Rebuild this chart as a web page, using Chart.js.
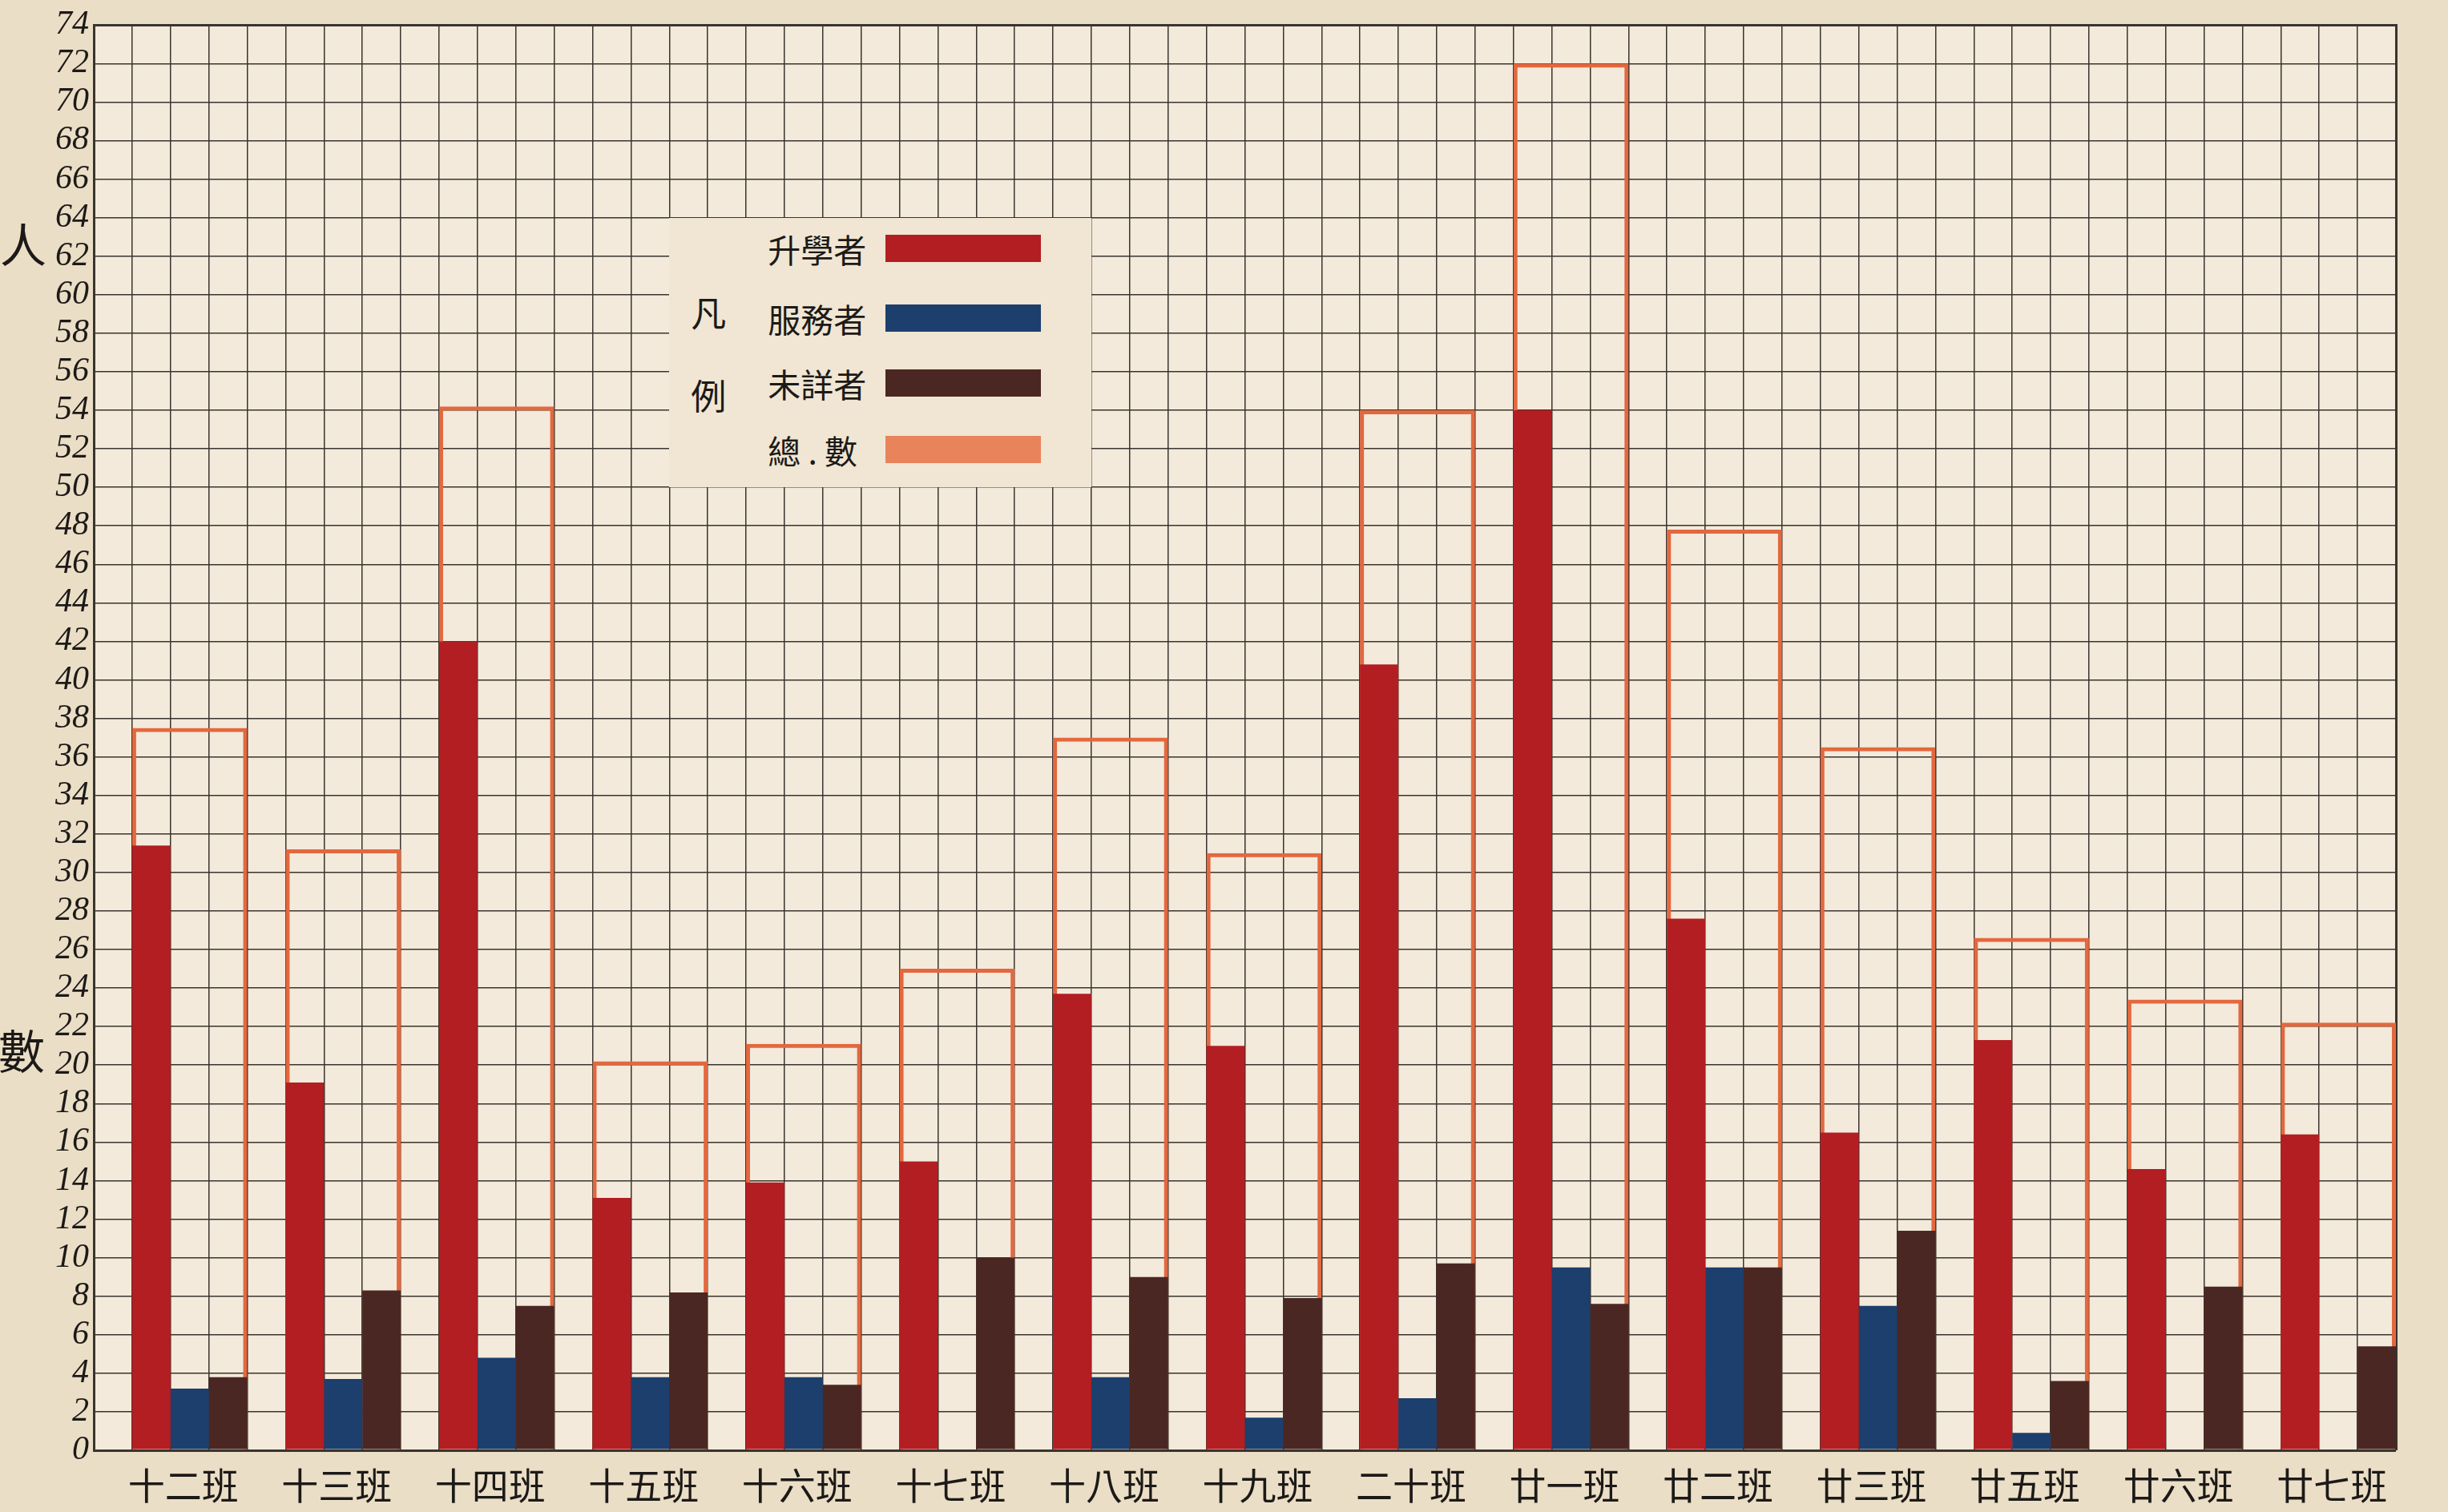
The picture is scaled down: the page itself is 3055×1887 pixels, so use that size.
<!DOCTYPE html>
<html>
<head>
<meta charset="utf-8">
<script src="https://cdn.jsdelivr.net/npm/chart.js@4/dist/chart.umd.min.js"></script>
<style>
  body { margin: 0; background: #ebdec6; }
  #wrap { position: relative; width: 3055px; height: 1887px; }
  .ytitle { position: absolute; font-family: "Noto Sans CJK TC", sans-serif; font-size: 58px; line-height: 1; color: #1c1a18; }
  #legend { position: absolute; background: #f0e6d3; font-family: "Noto Sans CJK TC", sans-serif; color: #1c1a18; }
</style>
</head>
<body>
<div id="wrap">
  <canvas id="chart" width="3055" height="1887"></canvas>
  <div class="ytitle" style="left:0px;top:274px;">人</div>
  <div class="ytitle" style="left:-2px;top:1280px;">數</div>
  <div id="legend"></div>
</div>
<script>
// classes along the bottom (廿四班 is not in the chart)
const classes = ['十二班', '十三班', '十四班', '十五班', '十六班', '十七班', '十八班', '十九班', '二十班', '廿一班', '廿二班', '廿三班', '廿五班', '廿六班', '廿七班'];

const further  = [31.4, 19.1, 42, 13.1, 13.9, 15, 23.7, 21, 40.8, 54, 27.6, 16.5, 21.3, 14.6, 16.4]; // 升學者
const employed = [3.2, 3.7, 4.8, 3.8, 3.8, 0, 3.8, 1.7, 2.7, 9.5, 9.5, 7.5, 0.9, 0, 0];             // 服務者
const unknown  = [3.8, 8.3, 7.5, 8.2, 3.4, 10, 9, 7.9, 9.7, 7.6, 9.5, 11.4, 3.6, 8.5, 5.4];         // 未詳者
const totals   = [37.5, 31.2, 54.2, 20.2, 21.1, 25, 37, 31, 54, 72, 47.8, 36.5, 26.6, 23.4, 22.2]; // 總數

const seriesNames  = ['升學者', '服務者', '未詳者', '總 . 數'];
const seriesColors = ['#b31e22', '#1c3f6d', '#4b2723', '#e8835c'];
const totalLine = '#e3683f';

const yMax = 74, yStep = 2;
const gridColumns = 60;

const gridColor = '#39342e';

const plotBg = {
  id: 'plotBg',
  beforeDraw(chart) {
    const { ctx, chartArea: a } = chart;
    ctx.save();
    ctx.fillStyle = '#f3eadb';
    ctx.fillRect(a.left, a.top, a.right - a.left, a.bottom - a.top);
    ctx.restore();
  }
};

const chart = new Chart(document.getElementById('chart'), {
  type: 'bar',
  data: {
    labels: classes.map((c, i) => i),
    datasets: [
      { label: seriesNames[0], data: further,  backgroundColor: seriesColors[0], order: 0 },
      { label: seriesNames[1], data: employed, backgroundColor: seriesColors[1], order: 0 },
      { label: seriesNames[2], data: unknown,  backgroundColor: seriesColors[2], order: 0 },
      { label: seriesNames[3], data: totals, grouped: false, order: 1,
        backgroundColor: 'rgba(0,0,0,0)', borderColor: totalLine, borderWidth: 5, borderSkipped: 'bottom' }
    ]
  },
  options: {
    responsive: false,
    animation: false,
    events: [],
    categoryPercentage: 0.75,
    barPercentage: 1,
    layout: { padding: { top: 26, right: 65, left: 0, bottom: 0 } },
    plugins: { legend: { display: false }, tooltip: { enabled: false } },
    scales: {
      x: {
        type: 'linear',
        position: 'bottom',
        offset: false,
        min: -0.625,
        max: classes.length - 0.625,
        afterBuildTicks: axis => { axis.ticks = classes.map((c, i) => ({ value: i })); },
        afterFit: axis => { axis.height = 77; },
        grid: { display: false, offset: false },
        border: { display: false },
        ticks: {
          autoSkip: false, maxRotation: 0, padding: 8, labelOffset: -8,
          color: '#1c1a18',
          font: { family: '"Noto Sans CJK TC", sans-serif', size: 46 },
          callback: v => classes[v]
        }
      },
      xg: {
        type: 'linear',
        position: 'top',
        offset: false,
        min: 0,
        max: gridColumns,
        afterFit: axis => { axis.height = 0; },
        ticks: { display: false, stepSize: 1 },
        grid: {
          offset: false,
          color: gridColor,
          lineWidth: c => (c.index === 0 || c.index === gridColumns) ? 3 : 1.5,
          drawTicks: false
        },
        border: { display: true, color: gridColor, width: 3 }
      },
      y: {
        min: 0,
        max: yMax,
        afterFit: axis => { axis.width = 117; },
        ticks: {
          stepSize: yStep, autoSkip: false, padding: 6,
          color: '#1c1a18',
          font: { family: '"Liberation Serif", serif', size: 42, style: 'italic' }
        },
        grid: {
          color: gridColor,
          lineWidth: c => (c.tick.value === 0 || c.tick.value === yMax) ? 3 : 1.5,
          drawTicks: false
        },
        border: { display: true, color: gridColor, width: 3 }
      }
    }
  },
  plugins: [plotBg]
});

// legend box sits on the grid between columns 15-26 and y 50-64
function renderLegend() {
  const xg = chart.scales.xg, y = chart.scales.y;
  const left = xg.getPixelForValue(15), right = xg.getPixelForValue(26);
  const top = y.getPixelForValue(64), bottom = y.getPixelForValue(50);
  const box = document.getElementById('legend');
  box.style.cssText += `left:${left}px;top:${top}px;width:${right - left}px;height:${bottom - top}px;`;
  const rows = [38, 125, 206, 289];
  box.innerHTML = `
    <div style="position:absolute;left:27px;top:95px;font-size:44px;line-height:1;">凡</div>
    <div style="position:absolute;left:27px;top:198px;font-size:44px;line-height:1;">例</div>
    ${seriesNames.map((name, i) => `
      <div style="position:absolute;left:123px;top:${rows[i] - 24}px;font-size:41px;line-height:48px;white-space:nowrap;">${name}</div>
      <div style="position:absolute;left:270px;top:${rows[i] - 17}px;width:194px;height:34px;background:${seriesColors[i]};"></div>
    `).join('')}
  `;
}
renderLegend();
</script>
</body>
</html>
